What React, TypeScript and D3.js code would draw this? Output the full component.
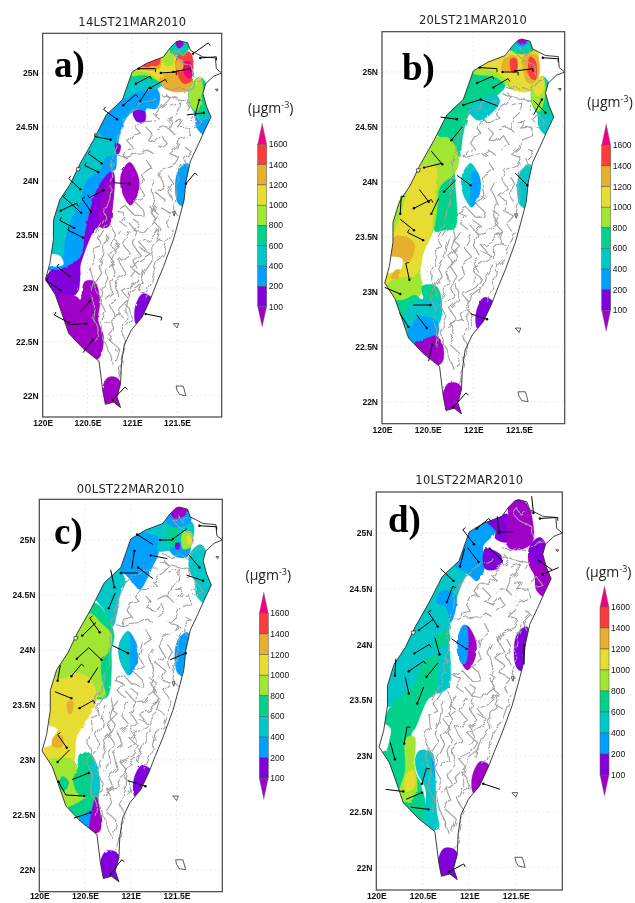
import * as d3 from "d3";
import { useEffect, useRef } from "react";

type Pt = number[];

// colour classes, lowest first (index = class used in the region lists)
const levelColors = ["#a000c8", "#8200dc", "#00a0ff", "#00c8c8", "#00d28c", "#a0e632", "#e6dc32", "#e6af2d", "#fa3c3c", "#f00082"];
const levelTicks = [1600, 1400, 1200, 1000, 800, 600, 400, 200, 100];
const lonTicks = [120, 120.5, 121, 121.5];
const latTicks = [22, 22.5, 23, 23.5, 24, 24.5, 25];

const coast: Pt[] = [
	[121.53, 25.3], [121.62, 25.28], [121.65, 25.21], [121.72, 25.18], [121.79, 25.15], [121.93, 25.14], [121.94, 25.04], [122.0, 25.0],
	[121.91, 24.97], [121.82, 24.9], [121.79, 24.81], [121.83, 24.69], [121.88, 24.59], [121.8, 24.45], [121.73, 24.32], [121.65, 24.18],
	[121.6, 23.99], [121.58, 23.82], [121.52, 23.63], [121.46, 23.45], [121.35, 23.2], [121.27, 23.04], [121.2, 22.89], [121.11, 22.73],
	[120.99, 22.61], [120.91, 22.47], [120.88, 22.3], [120.87, 22.11], [120.83, 21.99], [120.87, 21.89], [120.79, 21.94], [120.7, 21.92],
	[120.67, 22.05], [120.63, 22.32], [120.45, 22.44], [120.29, 22.58], [120.2, 22.8], [120.14, 22.94], [120.03, 23.08], [120.08, 23.23],
	[120.12, 23.45], [120.12, 23.63], [120.19, 23.82], [120.31, 23.97], [120.42, 24.16], [120.57, 24.38], [120.71, 24.61], [120.89, 24.75],
	[121.0, 25.01], [121.16, 25.09], [121.35, 25.15], [121.42, 25.23], [121.49, 25.29]
];
const islands: Pt[][] = [
	[[121.49, 22.09], [121.57, 22.09], [121.6, 22.0], [121.53, 22.01], [121.5, 22.05]],
	[[121.46, 22.67], [121.52, 22.67], [121.5, 22.63]],
	[[121.93, 24.85], [121.96, 24.85], [121.95, 24.83]],
	[[120.38, 24.12], [120.42, 24.12], [120.41, 24.09], [120.38, 24.09]],
	[[121.45, 23.71], [121.48, 23.71], [121.47, 23.67]]
];

// gray height contours, the same in all panels
const terrain: Pt[][] = [
	[[121.27, 24.76], [121.2, 24.73], [121.12, 24.72], [121.01, 24.66], [120.94, 24.61], [120.9, 24.53], [120.84, 24.42], [120.83, 24.31], [120.79, 24.24], [120.77, 24.14], [120.78, 24.04], [120.76, 23.9], [120.75, 23.83], [120.71, 23.74], [120.7, 23.65], [120.64, 23.57], [120.6, 23.5]],
	[[121.37, 24.81], [121.42, 24.76], [121.35, 24.7], [121.29, 24.67], [121.24, 24.62], [121.29, 24.58], [121.2, 24.55], [121.11, 24.55], [121.05, 24.48], [121.09, 24.44], [121.0, 24.42], [120.96, 24.36], [121.01, 24.3], [120.92, 24.28], [120.9, 24.22], [120.83, 24.24]],
	[[120.9, 24.22], [120.99, 24.24], [121.11, 24.25], [121.18, 24.28], [121.24, 24.25]],
	[[121.42, 24.7], [121.53, 24.73], [121.52, 24.64], [121.44, 24.58], [121.4, 24.49], [121.46, 24.44]],
	[[121.33, 24.79], [121.45, 24.77], [121.55, 24.75], [121.65, 24.73], [121.61, 24.66]],
	[[121.48, 24.55], [121.57, 24.55], [121.52, 24.49], [121.63, 24.5], [121.65, 24.42], [121.53, 24.38], [121.5, 24.31], [121.42, 24.25], [121.52, 24.22], [121.48, 24.16], [121.35, 24.11], [121.31, 24.03], [121.37, 23.94], [121.27, 23.88], [121.37, 23.82], [121.33, 23.74], [121.44, 23.69], [121.37, 23.62], [121.42, 23.55]],
	[[121.16, 24.19], [121.22, 24.11], [121.12, 24.05], [121.09, 23.94], [121.14, 23.86], [121.03, 23.8], [121.11, 23.74], [121.14, 23.66], [121.01, 23.69], [120.92, 23.77], [120.83, 23.72], [120.92, 23.69], [120.86, 23.62], [120.94, 23.57]],
	[[121.68, 24.5], [121.79, 24.53], [121.72, 24.61], [121.65, 24.55]],
	[[121.57, 24.17], [121.52, 24.08], [121.5, 23.96], [121.5, 23.86], [121.46, 23.74], [121.5, 23.68]],
	[[121.35, 24.87], [121.44, 24.84], [121.53, 24.87], [121.62, 24.83], [121.72, 24.92], [121.8, 24.93]],
	[[120.86, 23.54], [120.79, 23.46], [120.85, 23.42], [120.73, 23.32], [120.79, 23.25], [120.7, 23.18], [120.73, 23.09], [120.66, 22.98], [120.64, 22.87], [120.7, 22.78], [120.64, 22.66], [120.68, 22.52], [120.73, 22.44], [120.79, 22.29]],
	[[120.72, 23.59], [120.62, 23.46], [120.66, 23.4], [120.57, 23.37], [120.58, 23.25], [120.53, 23.18], [120.57, 23.06], [120.53, 22.95], [120.58, 22.85], [120.56, 22.72], [120.62, 22.6], [120.6, 22.5]],
	[[121.09, 23.37], [121.2, 23.32], [121.07, 23.25], [120.98, 23.2], [121.09, 23.12], [121.03, 23.04], [120.88, 22.98], [120.96, 22.9], [120.85, 22.81], [120.88, 22.75], [120.75, 22.72], [120.79, 22.61], [120.73, 22.53], [120.85, 22.44], [120.81, 22.32]],
	[[121.24, 23.51], [121.31, 23.54], [121.2, 23.46], [121.09, 23.42], [121.16, 23.35]],
	[[121.46, 23.54], [121.4, 23.43], [121.35, 23.31], [121.27, 23.25], [121.24, 23.15], [121.22, 23.06], [121.18, 22.97], [121.14, 22.92]],
	[[121.12, 23.06], [120.98, 22.97], [120.94, 22.84], [120.94, 22.72], [120.88, 22.6], [120.94, 22.5], [120.9, 22.39], [120.88, 22.28], [120.85, 22.16]],
	[[121.31, 23.46], [121.22, 23.39], [121.22, 23.25], [121.14, 23.15], [121.11, 23.08], [121.07, 22.98]],
	[[120.73, 23.49], [120.7, 23.42], [120.68, 23.31], [120.62, 23.21], [120.66, 23.14], [120.58, 23.04], [120.62, 22.94]],
	[[120.98, 23.52], [120.9, 23.4], [120.98, 23.32], [120.86, 23.25], [120.92, 23.14], [120.81, 23.06], [120.85, 22.92], [120.75, 22.84], [120.81, 22.75], [120.7, 22.67]],
	[[121.0, 23.65], [121.08, 23.6], [121.02, 23.54], [121.14, 23.52], [121.2, 23.58], [121.27, 23.62], [121.22, 23.7], [121.26, 23.8], [121.2, 23.92], [121.25, 24.0]],
	[[121.62, 25.2], [121.56, 25.16], [121.52, 25.22], [121.47, 25.17], [121.55, 25.1], [121.66, 25.07], [121.68, 24.97]],
	[[121.15, 24.5], [121.22, 24.44], [121.17, 24.38], [121.26, 24.36], [121.33, 24.42], [121.38, 24.35], [121.3, 24.3]],
	[[121.42, 24.48], [121.35, 24.5], [121.28, 24.47]],
	[[121.6, 24.3], [121.66, 24.27], [121.58, 24.2], [121.62, 24.12]],
	[[121.4, 24.05], [121.45, 23.98], [121.4, 23.9], [121.44, 23.82]],
	[[121.2, 23.75], [121.28, 23.7], [121.24, 23.62], [121.32, 23.55], [121.28, 23.46], [121.36, 23.42]],
	[[120.95, 23.62], [121.05, 23.52], [121.0, 23.42], [121.08, 23.32], [121.0, 23.27], [121.05, 23.18], [120.98, 23.1]],
	[[120.78, 23.58], [120.8, 23.5], [120.76, 23.4], [120.82, 23.33], [120.76, 23.22], [120.82, 23.14], [120.76, 23.05], [120.78, 22.96], [120.7, 22.9]],
	[[120.92, 22.85], [120.98, 22.8], [121.0, 22.72], [120.94, 22.65]]
];

// blobs that come back in every panel with another colour
const moonBlob: Pt[] = [[120.97, 24.17], [121.05, 24.08], [121.08, 23.97], [121.05, 23.85], [120.98, 23.77], [120.92, 23.83], [120.87, 23.95], [120.88, 24.07]];
const moonWest: Pt[] = [[120.97, 24.17], [120.97, 23.77], [120.92, 23.83], [120.87, 23.95], [120.88, 24.07]];
const hualienBlob: Pt[] = [[121.62, 24.16], [121.66, 23.98], [121.62, 23.76], [121.52, 23.78], [121.48, 23.95], [121.52, 24.1]];
const taitungBlob: Pt[] = [[121.12, 22.95], [121.24, 22.89], [121.22, 22.75], [121.05, 22.66], [121.03, 22.81]];
const hengchunBlob: Pt[] = [[120.73, 22.17], [120.84, 22.16], [120.92, 22.0], [120.92, 21.82], [120.66, 21.82], [120.66, 22.05]];
const yilanBlob: Pt[] = [[121.76, 24.96], [121.83, 24.89], [121.86, 24.7], [121.92, 24.58], [121.82, 24.42], [121.72, 24.49], [121.7, 24.62], [121.64, 24.72], [121.65, 24.88]];
const yilanUpper: Pt[] = [[121.76, 24.96], [121.83, 24.89], [121.86, 24.63], [121.72, 24.62], [121.64, 24.72], [121.65, 24.88]];
const yilanTop: Pt[] = [[121.76, 24.96], [121.79, 24.85], [121.76, 24.7], [121.72, 24.64], [121.67, 24.68], [121.64, 24.72], [121.65, 24.88]];

// [class, outline]; a class of -1 is a white hole
const regionsA: [number, Pt[]][] = [
	[2, [[121.31, 24.79], [121.27, 24.67], [121.16, 24.67], [121.14, 24.62], [121.01, 24.64], [120.9, 24.53], [120.85, 24.38], [120.83, 24.25], [120.81, 24.1], [120.75, 24.08], [120.6, 23.91], [120.47, 23.51], [120.42, 23.29], [120.17, 23.17], [120.0, 23.2], [119.9, 24.5], [120.7, 25.0], [121.0, 25.1], [121.2, 24.95]]],
	[3, [[120.66, 24.42], [120.81, 24.35], [120.83, 24.25], [120.71, 24.22], [120.64, 24.1], [120.49, 24.0], [120.42, 23.8], [120.32, 23.64], [120.25, 23.45], [120.21, 23.28], [120.0, 23.3], [119.9, 24.2], [120.4, 24.6]]],
	[1, [[120.81, 24.35], [120.87, 24.33], [120.85, 24.25], [120.83, 24.25]]],
	[1, [[120.79, 24.08], [120.78, 23.76], [120.73, 23.57], [120.64, 23.57], [120.58, 23.54], [120.45, 23.29], [120.42, 23.2], [120.42, 23.11], [120.38, 22.95], [120.19, 22.9], [120.0, 23.0], [120.1, 23.17], [120.17, 23.17], [120.42, 23.29], [120.47, 23.51], [120.6, 23.91], [120.75, 24.08]]],
	[0, [[120.79, 24.05], [120.78, 23.76], [120.73, 23.57], [120.64, 23.57], [120.7, 23.95]]],
	[-1, [[120.0, 23.3], [120.19, 23.3], [120.23, 23.22], [120.12, 23.2], [120.0, 23.2]]],
	[0, [[120.47, 23.06], [120.58, 23.06], [120.64, 22.89], [120.62, 22.7], [120.68, 22.55], [120.64, 22.36], [120.58, 22.33], [120.3, 22.4], [120.0, 22.7], [120.19, 22.93], [120.38, 22.92], [120.42, 22.89]]],
	[3, [[120.86, 24.76], [121.08, 24.83], [121.31, 24.87], [121.4, 25.0], [121.2, 25.2], [120.8, 25.1]]],
	[4, [[120.95, 24.93], [121.1, 24.94], [121.3, 24.92], [121.4, 25.0], [121.2, 25.2], [120.9, 25.1]]],
	[5, [[120.97, 24.98], [121.15, 24.98], [121.33, 24.93], [121.37, 25.05], [121.25, 25.2], [121.0, 25.1]]],
	[6, [[121.02, 25.03], [121.2, 25.0], [121.3, 24.92], [121.4, 24.85], [121.55, 24.88], [121.55, 25.15], [121.62, 25.25], [121.45, 25.28], [121.33, 25.18], [121.05, 25.13]]],
	[7, [[121.05, 25.05], [121.3, 25.04], [121.32, 25.14], [121.1, 25.14]]],
	[8, [[121.09, 25.07], [121.3, 25.08], [121.3, 25.16], [121.12, 25.16]]],
	[5, [[121.35, 25.17], [121.45, 25.19], [121.45, 25.08], [121.37, 25.07]]],
	[7, [[121.3, 24.94], [121.4, 24.84], [121.62, 24.84], [121.68, 24.95], [121.6, 25.0], [121.5, 24.97], [121.45, 25.0], [121.35, 24.98]]],
	[8, [[121.5, 25.15], [121.58, 25.2], [121.66, 25.18], [121.68, 25.0], [121.67, 24.93], [121.58, 24.9], [121.5, 25.0]]],
	[9, [[121.57, 25.1], [121.65, 25.1], [121.68, 25.02], [121.67, 24.95], [121.6, 24.97]]],
	[7, [[121.5, 25.12], [121.56, 25.12], [121.56, 25.03], [121.5, 25.03]]],
	[4, [[121.42, 25.2], [121.47, 25.3], [121.6, 25.32], [121.63, 25.22], [121.55, 25.17], [121.48, 25.17]]],
	[3, [[121.46, 25.24], [121.5, 25.3], [121.58, 25.3], [121.6, 25.22], [121.53, 25.2]]],
	[0, [[121.49, 25.27], [121.52, 25.32], [121.56, 25.3], [121.57, 25.26], [121.52, 25.23]]],
	[1, [[121.01, 24.64], [121.14, 24.64], [121.14, 24.55], [121.05, 24.55]]],
	[2, yilanBlob],
	[3, [[121.72, 24.62], [121.84, 24.63], [121.88, 24.59], [121.74, 24.56]]],
	[4, yilanUpper],
	[5, yilanTop],
	[6, [[121.76, 24.96], [121.74, 24.9], [121.7, 24.88], [121.73, 24.94]]],
	[0, moonBlob],
	[2, hualienBlob],
	[1, taitungBlob],
	[0, hengchunBlob]
];

const regionsB: [number, Pt[]][] = [
	[4, [[120.84, 24.22], [120.89, 24.44], [120.96, 24.62], [121.12, 24.72], [121.28, 24.8], [121.35, 24.88], [121.2, 25.2], [120.8, 25.1], [120.5, 24.6], [120.6, 24.43], [120.72, 24.36]]],
	[3, [[120.96, 24.62], [121.05, 24.56], [121.15, 24.59], [121.29, 24.73], [121.25, 24.79], [121.15, 24.78], [120.93, 24.65]]],
	[5, [[120.98, 25.0], [121.25, 24.95], [121.36, 24.88], [121.47, 24.83], [121.4, 25.1], [121.0, 25.15]]],
	[6, [[121.03, 25.05], [121.25, 25.0], [121.36, 24.93], [121.47, 24.83], [121.62, 24.83], [121.7, 25.05], [121.7, 25.2], [121.5, 25.25], [121.36, 25.16], [121.1, 25.16]]],
	[7, [[121.31, 25.02], [121.47, 25.03], [121.47, 25.14], [121.36, 25.14]]],
	[7, [[121.55, 25.15], [121.7, 25.15], [121.7, 24.92], [121.6, 24.9], [121.55, 25.0]]],
	[8, [[121.41, 25.12], [121.47, 25.12], [121.47, 25.0], [121.42, 25.0]]],
	[8, [[121.62, 25.14], [121.68, 25.1], [121.68, 24.93], [121.62, 24.95], [121.6, 25.05]]],
	[4, [[121.38, 25.22], [121.45, 25.32], [121.6, 25.32], [121.68, 25.22], [121.6, 25.17], [121.47, 25.17]]],
	[3, [[121.44, 25.24], [121.5, 25.32], [121.58, 25.32], [121.62, 25.24], [121.55, 25.2], [121.48, 25.2]]],
	[2, [[121.47, 25.27], [121.52, 25.32], [121.57, 25.3], [121.59, 25.26], [121.52, 25.23]]],
	[0, [[121.48, 25.29], [121.52, 25.33], [121.57, 25.31], [121.58, 25.27], [121.52, 25.25]]],
	[4, [[120.84, 24.23], [120.8, 24.1], [120.8, 23.58], [120.68, 23.56], [120.58, 23.55], [120.6, 24.0]]],
	[5, [[120.6, 24.41], [120.73, 24.4], [120.84, 24.23], [120.8, 24.08], [120.64, 23.96], [120.6, 23.72], [120.56, 23.55], [120.45, 23.35], [120.42, 23.2], [120.42, 23.05], [120.3, 23.05], [120.15, 23.2], [120.08, 23.5], [120.0, 24.0], [120.3, 24.5]]],
	[6, [[120.38, 24.12], [120.58, 24.14], [120.6, 23.96], [120.56, 23.71], [120.54, 23.53], [120.45, 23.35], [120.42, 23.22], [120.31, 23.1], [120.15, 23.0], [120.0, 23.05], [120.08, 23.4], [120.14, 23.56], [120.2, 23.68], [120.27, 23.9]]],
	[7, [[120.14, 23.5], [120.27, 23.5], [120.36, 23.42], [120.3, 23.28], [120.2, 23.28], [120.1, 23.33]]],
	[-1, [[120.0, 23.3], [120.22, 23.3], [120.2, 23.2], [120.13, 23.18], [120.0, 23.18]]],
	[7, [[120.15, 23.2], [120.2, 23.2], [120.15, 23.12], [120.1, 23.12]]],
	[5, [[120.42, 23.12], [120.42, 22.97], [120.3, 22.93], [120.2, 22.85], [120.0, 23.0], [120.1, 23.1]]],
	[4, [[120.44, 22.93], [120.44, 23.05], [120.58, 23.06], [120.64, 22.98], [120.63, 22.8], [120.3, 22.75], [120.1, 22.7], [120.1, 22.9], [120.25, 22.93], [120.36, 22.97]]],
	[3, [[120.44, 22.93], [120.63, 22.93], [120.63, 22.72], [120.4, 22.6], [120.25, 22.65], [120.25, 22.8], [120.33, 22.9]]],
	[2, [[120.3, 22.66], [120.4, 22.77], [120.6, 22.73], [120.61, 22.6], [120.5, 22.55], [120.35, 22.48], [120.25, 22.55]]],
	[0, [[120.33, 22.52], [120.5, 22.58], [120.6, 22.6], [120.67, 22.5], [120.66, 22.36], [120.58, 22.33], [120.4, 22.44], [120.3, 22.52]]],
	[3, yilanBlob],
	[4, yilanUpper],
	[5, yilanTop],
	[6, [[121.76, 24.96], [121.76, 24.82], [121.7, 24.78], [121.65, 24.88]]],
	[3, moonBlob],
	[2, [[121.0, 24.1], [121.05, 24.08], [121.08, 23.97], [121.05, 23.85], [120.98, 23.77], [120.97, 23.95]]],
	[3, hualienBlob],
	[1, taitungBlob],
	[0, hengchunBlob]
];

const regionsC: [number, Pt[]][] = [
	[2, [[120.84, 24.75], [120.95, 24.95], [121.05, 25.1], [121.3, 25.1], [121.3, 24.87], [121.24, 24.76], [121.18, 24.65], [121.1, 24.55], [121.03, 24.6], [120.95, 24.68]]],
	[3, [[121.1, 25.08], [121.3, 25.03], [121.3, 24.9], [121.42, 24.9], [121.5, 24.87], [121.65, 24.95], [121.68, 25.15], [121.52, 25.2], [121.38, 25.2]]],
	[2, [[121.43, 24.9], [121.52, 24.84], [121.62, 24.85], [121.65, 24.95], [121.5, 24.98]]],
	[4, [[121.42, 25.16], [121.5, 25.12], [121.5, 24.95], [121.42, 24.95]]],
	[5, [[121.57, 25.07], [121.66, 25.07], [121.66, 24.94], [121.57, 24.92]]],
	[6, [[121.62, 25.05], [121.66, 25.03], [121.66, 24.97], [121.62, 24.97]]],
	[1, [[121.49, 24.97], [121.53, 24.97], [121.53, 24.92], [121.49, 24.92]]],
	[2, [[121.38, 25.18], [121.45, 25.3], [121.6, 25.3], [121.66, 25.18], [121.55, 25.12], [121.45, 25.12]]],
	[0, [[121.43, 25.26], [121.5, 25.33], [121.58, 25.32], [121.62, 25.25], [121.53, 25.2], [121.47, 25.2]]],
	[3, yilanBlob],
	[3, [[120.6, 24.5], [120.78, 24.75], [120.88, 24.73], [120.94, 24.62], [120.88, 24.5], [120.86, 24.38], [120.8, 24.21], [120.7, 24.37]]],
	[4, [[120.5, 24.41], [120.63, 24.42], [120.77, 24.26], [120.82, 24.12], [120.79, 24.0], [120.79, 23.82], [120.74, 23.57], [120.58, 23.57], [120.6, 23.9], [120.4, 24.2]]],
	[5, [[120.55, 24.33], [120.68, 24.24], [120.79, 24.14], [120.77, 24.0], [120.68, 23.9], [120.68, 23.75], [120.72, 23.57], [120.6, 23.57], [120.55, 23.47], [120.47, 23.35], [120.0, 23.5], [120.15, 23.8], [120.3, 24.1]]],
	[6, [[120.39, 23.79], [120.54, 23.74], [120.63, 23.57], [120.52, 23.36], [120.41, 23.21], [120.37, 22.97], [120.2, 22.9], [120.05, 23.0], [120.05, 23.1], [120.12, 23.22], [120.05, 23.5], [120.07, 23.64], [120.12, 23.73], [120.28, 23.74]]],
	[7, [[120.31, 23.53], [120.37, 23.53], [120.35, 23.42], [120.32, 23.42]]],
	[-1, [[120.0, 23.3], [120.2, 23.28], [120.16, 23.22], [120.12, 23.13], [120.0, 23.13]]],
	[7, [[120.15, 23.2], [120.25, 23.22], [120.25, 23.12], [120.15, 23.12]]],
	[5, [[120.37, 23.0], [120.44, 22.85], [120.5, 22.7], [120.55, 22.6], [120.4, 22.55], [120.25, 22.6], [120.0, 22.9], [120.1, 23.0]]],
	[4, [[120.42, 22.92], [120.44, 23.05], [120.55, 23.06], [120.63, 22.95], [120.64, 22.68], [120.44, 22.68], [120.37, 22.82]]],
	[4, [[120.25, 22.85], [120.32, 22.8], [120.28, 22.72], [120.22, 22.75]]],
	[3, [[120.58, 23.0], [120.63, 22.95], [120.64, 22.68], [120.58, 22.7]]],
	[4, [[120.58, 22.68], [120.64, 22.68], [120.6, 22.5], [120.4, 22.47], [120.3, 22.55], [120.4, 22.6]]],
	[2, [[120.44, 22.47], [120.6, 22.55], [120.6, 22.4], [120.5, 22.35], [120.4, 22.4]]],
	[0, [[120.62, 22.66], [120.67, 22.5], [120.66, 22.35], [120.55, 22.33], [120.55, 22.42]]],
	[2, moonBlob],
	[3, moonWest],
	[2, hualienBlob],
	[1, taitungBlob],
	[1, hengchunBlob]
];

const regionsD: [number, Pt[]][] = [
	[3, [[120.8, 24.8], [121.0, 24.75], [121.15, 24.65], [121.08, 24.58], [120.98, 24.62], [120.9, 24.5], [120.83, 24.3], [120.78, 24.1], [120.8, 23.8], [120.78, 23.62], [120.65, 23.56], [120.6, 23.62], [120.45, 23.55], [120.15, 23.44], [119.95, 23.5], [120.1, 24.0], [120.5, 24.6]]],
	[2, [[120.7, 24.48], [120.85, 24.45], [120.85, 24.3], [120.8, 24.2], [120.75, 24.33], [120.64, 24.38]]],
	[2, [[120.85, 24.7], [120.97, 24.65], [121.08, 24.57], [121.17, 24.7], [121.15, 24.88], [121.28, 25.01], [121.2, 25.15], [120.95, 25.15], [120.9, 25.0]]],
	[1, [[121.15, 25.14], [121.42, 25.16], [121.42, 24.92], [121.28, 24.95], [121.28, 25.02]]],
	[1, [[121.17, 24.86], [121.35, 24.79], [121.3, 24.68], [121.17, 24.68]]],
	[0, [[121.42, 25.3], [121.5, 25.33], [121.63, 25.25], [121.68, 25.12], [121.68, 24.92], [121.55, 24.85], [121.42, 24.87], [121.42, 25.15]]],
	[0, yilanBlob],
	[1, [[121.76, 24.96], [121.81, 24.89], [121.79, 24.75], [121.7, 24.72], [121.65, 24.88]]],
	[4, [[120.77, 24.12], [120.79, 24.03], [120.68, 23.98], [120.62, 24.0], [120.68, 24.1]]],
	[4, [[120.66, 23.9], [120.5, 23.85], [120.42, 23.65], [120.15, 23.44], [120.05, 23.2], [120.05, 22.95], [120.2, 22.55], [120.35, 22.45], [120.52, 22.4], [120.5, 22.7], [120.4, 22.9], [120.38, 23.2], [120.42, 23.25], [120.55, 23.5], [120.63, 23.56], [120.65, 23.75]]],
	[-1, [[120.0, 23.3], [120.15, 23.25], [120.14, 23.15], [120.1, 23.05], [120.0, 23.05]]],
	[3, [[120.42, 22.98], [120.47, 23.05], [120.6, 23.03], [120.63, 22.85], [120.65, 22.5], [120.67, 22.35], [120.55, 22.33], [120.52, 22.45], [120.53, 22.7], [120.44, 22.85]]],
	[2, [[120.6, 23.0], [120.63, 22.85], [120.63, 22.8], [120.6, 22.9]]],
	[5, [[120.32, 23.16], [120.41, 23.17], [120.41, 22.93], [120.44, 22.72], [120.36, 22.59], [120.24, 22.62], [120.31, 22.87]]],
	[6, [[120.32, 22.83], [120.4, 22.87], [120.41, 22.72], [120.32, 22.68]]],
	[0, moonBlob],
	[2, [[120.93, 24.17], [120.97, 24.17], [120.96, 23.83], [120.92, 23.83], [120.87, 23.95], [120.88, 24.07]]],
	[1, hualienBlob],
	[0, taitungBlob],
	[1, hengchunBlob]
];

// station lon, lat, lon and lat of the barb's tip, and 1 if the tip has a feather
const barbsA: number[][] = [
	[121.68, 25.18, 121.85, 25.28, 1], [121.76, 25.14, 121.94, 25.15, 1], [121.07, 25.04, 121.26, 25.04, 1], [121.32, 25.0, 121.49, 25.01, 1],
	[121.46, 25.01, 121.65, 25.04, 1], [121.04, 24.9, 121.2, 24.97, 1], [121.2, 24.86, 121.37, 24.94, 1], [121.09, 24.74, 121.19, 24.87, 1],
	[120.9, 24.7, 121.04, 24.8, 1], [120.83, 24.57, 120.68, 24.66, 1], [120.76, 24.38, 120.58, 24.41, 1], [120.66, 24.16, 120.51, 24.25, 1],
	[120.62, 24.08, 120.47, 24.14, 1], [120.42, 23.92, 120.29, 24.02, 1], [120.68, 23.91, 120.52, 23.84, 1], [120.43, 23.7, 120.23, 23.85, 1],
	[120.54, 23.71, 120.44, 23.83, 1], [120.2, 23.72, 120.38, 23.79, 1], [120.35, 23.56, 120.19, 23.63, 1], [120.45, 23.47, 120.28, 23.54, 1],
	[120.3, 23.11, 120.16, 23.2, 1], [120.2, 22.98, 120.04, 23.07, 1], [120.53, 22.88, 120.41, 22.77, 0], [120.29, 22.68, 120.13, 22.75, 1],
	[120.49, 22.67, 120.3, 22.66, 0], [120.56, 22.52, 120.45, 22.4, 0], [120.78, 21.96, 120.92, 22.08, 1], [121.15, 22.76, 121.33, 22.73, 1],
	[120.97, 23.97, 120.79, 23.98, 1], [121.6, 23.97, 121.7, 24.07, 1], [121.75, 24.75, 121.7, 24.6, 0], [121.8, 24.63, 121.61, 24.61, 0]
];
const barbsB: number[][] = [
	[121.07, 25.04, 121.26, 25.03, 1], [121.32, 25.0, 121.49, 25.0, 1], [121.46, 25.01, 121.65, 25.03, 1], [121.04, 24.9, 121.21, 24.96, 1],
	[121.22, 24.86, 121.38, 24.94, 1], [120.89, 24.7, 121.08, 24.75, 0], [121.08, 24.75, 121.27, 24.69, 0], [120.82, 24.57, 120.64, 24.59, 0],
	[120.76, 24.38, 120.88, 24.5, 0], [120.66, 24.16, 120.54, 24.28, 0], [120.46, 24.13, 120.66, 24.17, 0], [120.68, 23.91, 120.81, 24.02, 0],
	[120.97, 23.97, 120.82, 24.06, 0], [121.59, 23.97, 121.46, 24.08, 0], [120.51, 23.82, 120.41, 23.93, 0], [120.35, 23.76, 120.54, 23.84, 1],
	[120.54, 23.71, 120.62, 23.85, 0], [120.2, 23.71, 120.21, 23.87, 1], [120.35, 23.56, 120.2, 23.66, 0], [120.45, 23.47, 120.28, 23.54, 1],
	[120.3, 23.11, 120.26, 23.26, 1], [120.2, 22.98, 120.03, 23.04, 0], [120.53, 22.88, 120.34, 22.88, 0], [120.49, 22.67, 120.38, 22.79, 0],
	[120.29, 22.68, 120.19, 22.81, 0], [120.55, 22.52, 120.51, 22.37, 0], [120.78, 21.95, 120.92, 22.08, 1], [121.15, 22.75, 120.97, 22.8, 0],
	[121.79, 24.63, 121.66, 24.74, 0], [121.75, 24.75, 121.66, 24.61, 0], [121.76, 25.13, 121.93, 25.12, 1]
];
const barbsC: number[][] = [
	[121.07, 25.05, 121.24, 24.96, 0], [121.32, 25.0, 121.46, 25.0, 0], [121.46, 25.01, 121.61, 25.1, 0], [121.04, 24.9, 121.01, 24.74, 0],
	[121.22, 24.86, 121.4, 24.83, 0], [121.08, 24.75, 121.24, 24.65, 0], [120.89, 24.7, 121.08, 24.7, 0], [120.82, 24.57, 120.78, 24.73, 0],
	[120.76, 24.38, 120.83, 24.52, 0], [120.66, 24.16, 120.55, 24.29, 1], [120.47, 24.13, 120.62, 24.25, 0], [120.68, 23.91, 120.54, 24.02, 0],
	[120.41, 23.92, 120.54, 24.02, 0], [120.35, 23.76, 120.46, 23.87, 1], [120.54, 23.71, 120.64, 23.84, 0], [120.2, 23.72, 120.23, 23.86, 0],
	[120.35, 23.56, 120.17, 23.62, 0], [120.44, 23.47, 120.59, 23.54, 1], [120.3, 23.11, 120.2, 23.23, 1], [120.2, 22.98, 120.33, 23.09, 0],
	[120.54, 22.88, 120.36, 22.82, 0], [120.49, 22.67, 120.29, 22.68, 0], [120.21, 22.8, 120.29, 22.68, 0], [120.56, 22.52, 120.38, 22.47, 0],
	[120.78, 21.96, 120.9, 22.09, 1], [121.16, 22.76, 120.97, 22.81, 0], [120.97, 23.97, 120.8, 24.04, 0], [121.6, 23.97, 121.43, 23.91, 0],
	[121.75, 24.75, 121.63, 24.87, 0], [121.79, 24.63, 121.61, 24.68, 0], [121.75, 25.13, 121.94, 25.12, 1]
];
const barbsD: number[][] = [
	[121.08, 25.04, 121.21, 25.13, 1], [121.32, 25.0, 121.3, 25.15, 0], [121.32, 25.01, 121.48, 25.01, 0], [121.05, 24.9, 120.93, 25.03, 1],
	[121.22, 24.86, 121.36, 24.75, 0], [121.1, 24.74, 120.98, 24.87, 0], [120.9, 24.7, 120.95, 24.86, 0], [120.83, 24.57, 120.69, 24.68, 0],
	[120.76, 24.38, 120.82, 24.52, 1], [120.66, 24.16, 120.56, 24.29, 1], [120.46, 24.13, 120.62, 24.23, 0], [120.68, 23.91, 120.63, 24.06, 0],
	[120.41, 23.92, 120.57, 24.0, 1], [120.35, 23.76, 120.51, 23.85, 1], [120.54, 23.71, 120.66, 23.83, 0], [120.2, 23.72, 120.21, 23.87, 0],
	[120.35, 23.56, 120.31, 23.71, 0], [120.44, 23.47, 120.51, 23.62, 0], [120.3, 23.11, 120.33, 23.26, 1], [120.2, 22.97, 120.15, 23.12, 0],
	[120.49, 22.75, 120.54, 22.89, 1], [120.49, 22.67, 120.32, 22.61, 0], [120.29, 22.68, 120.1, 22.7, 0], [120.56, 22.52, 120.37, 22.54, 0],
	[120.78, 21.96, 120.94, 22.03, 1], [121.15, 22.75, 121.33, 22.7, 0], [120.97, 23.96, 120.81, 24.05, 0], [121.59, 23.99, 121.59, 23.82, 0],
	[121.75, 24.75, 121.89, 24.67, 0], [121.79, 24.63, 121.96, 24.69, 0], [121.69, 25.18, 121.67, 25.33, 0], [121.76, 25.13, 121.95, 25.14, 1]
];

const panels = [
	{ id: "a", letter: "a)", title: "14LST21MAR2010", regions: regionsA, barbs: barbsA, x: [42.7, 221.7], frame: [33.3, 417], y: [395.7, 73], titleAt: [132.3, 26], letterAt: [54, 77], bar: [257.7, 123.3, 144.3, 306.7, 326.7], unitAt: [270.7, 113], pad: 3 },
	{ id: "b", letter: "b)", title: "20LST21MAR2010", regions: regionsB, barbs: barbsB, x: [382, 564.7], frame: [31.7, 423.7], y: [401.7, 72], titleAt: [473, 24], letterAt: [402, 80], bar: [601.7, 124, 145.3, 310.3, 331.3], unitAt: [610, 107], pad: 3 },
	{ id: "c", letter: "c)", title: "00LST22MAR2010", regions: regionsC, barbs: barbsC, x: [39.3, 222.3], frame: [499.3, 891.7], y: [869.7, 540], titleAt: [130.7, 492.7], letterAt: [54, 544], bar: [259.3, 592.3, 613.3, 778.3, 799.3], unitAt: [268.3, 580], pad: 1.5 },
	{ id: "d", letter: "d)", title: "10LST22MAR2010", regions: regionsD, barbs: barbsD, x: [376.3, 562.3], frame: [492, 890], y: [867.3, 533], titleAt: [469.3, 484.3], letterAt: [388, 532], bar: [600, 586, 607, 775, 796], unitAt: [608.7, 577], pad: 3 }
];

const latLabel = (d: number) => `${d}N`;
const lonLabel = (d: number) => `${d}E`;

const drawPanel = (svg: any, p: any) => {
	const x = d3.scaleLinear().domain([120, 122]).range(p.x);
	const y = d3.scaleLinear().domain([22, 25]).range(p.y);
	const line = d3.line<Pt>().x(d => x(d[0])).y(d => y(d[1]));
	const rounded = d3.line<Pt>().x(d => x(d[0])).y(d => y(d[1])).curve(d3.curveCatmullRomClosed.alpha(0.5));
	const [left, right] = p.x;
	const [top, bottom] = p.frame;

	const g = svg.append("g");

	g.append("clipPath").attr("id", `land-${p.id}`).append("path").attr("d", line(coast) + "Z");

	// dotted graticule
	g.selectAll("line.lat").data(latTicks).enter().append("line")
		.attr("x1", left).attr("x2", right).attr("y1", d => y(d)).attr("y2", d => y(d))
		.attr("stroke", "#cfcfcf").attr("stroke-width", 0.6).attr("stroke-dasharray", "1.5 3");
	g.selectAll("line.lon").data(lonTicks.slice(1)).enter().append("line")
		.attr("x1", d => x(d)).attr("x2", d => x(d)).attr("y1", top).attr("y2", bottom)
		.attr("stroke", "#cfcfcf").attr("stroke-width", 0.6).attr("stroke-dasharray", "1.5 3");

	g.append("g").attr("clip-path", `url(#land-${p.id})`)
		.append("g").attr("filter", "url(#rough)")
		.selectAll("path").data(p.regions).enter().append("path")
		.attr("d", d => rounded(d[1]))
		.attr("fill", d => (d[0] < 0 ? "#fff" : levelColors[d[0]]))
		.attr("stroke", d => (d[0] < 0 ? "#fff" : levelColors[d[0]]))
		.attr("stroke-width", 0.3);

	g.append("g").attr("filter", "url(#wiggle)")
		.selectAll("path").data(terrain).enter().append("path")
		.attr("d", d => line(d))
		.attr("fill", "none").attr("stroke", "#a0a0a0").attr("stroke-width", 1.1);

	g.append("path").attr("d", line(coast) + "Z")
		.attr("fill", "none").attr("stroke", "#2a2a2a").attr("stroke-width", 0.9);
	g.selectAll("path.island").data(islands).enter().append("path")
		.attr("d", d => line(d) + "Z")
		.attr("fill", "#fff").attr("stroke", "#333").attr("stroke-width", 0.8);

	// wind barbs
	const barbs = g.append("g").selectAll("g").data(p.barbs).enter().append("g");
	barbs.append("line")
		.attr("x1", d => x(d[0])).attr("y1", d => y(d[1]))
		.attr("x2", d => x(d[2])).attr("y2", d => y(d[3]))
		.attr("stroke", "#000").attr("stroke-width", 1);
	barbs.append("circle")
		.attr("cx", d => x(d[0])).attr("cy", d => y(d[1])).attr("r", 1.2)
		.attr("fill", "#000");
	barbs.filter(d => d[4] === 1).append("line")
		.attr("x1", d => x(d[2])).attr("y1", d => y(d[3]))
		.attr("x2", d => {
			const dx = x(d[2]) - x(d[0]);
			const dy = y(d[3]) - y(d[1]);
			return x(d[2]) - (dy / Math.hypot(dx, dy)) * 3.5;
		})
		.attr("y2", d => {
			const dx = x(d[2]) - x(d[0]);
			const dy = y(d[3]) - y(d[1]);
			return y(d[3]) + (dx / Math.hypot(dx, dy)) * 3.5;
		})
		.attr("stroke", "#000").attr("stroke-width", 0.9);

	// frame and axes
	g.append("rect").attr("x", left).attr("y", top)
		.attr("width", right - left).attr("height", bottom - top)
		.attr("fill", "none").attr("stroke", "#444").attr("stroke-width", 1.2);

	const axisLeft = g.append("g").attr("transform", `translate(${left},0)`)
		.call(d3.axisLeft(y).tickValues(latTicks).tickFormat(latLabel).tickSize(0).tickPadding(4));
	const axisBottom = g.append("g").attr("transform", `translate(0,${bottom})`)
		.call(d3.axisBottom(x).tickValues(lonTicks).tickFormat(lonLabel).tickSize(0).tickPadding(p.pad));
	[axisLeft, axisBottom].forEach(a => {
		a.select(".domain").remove();
		a.selectAll("text")
			.attr("fill", "#111")
			.style("font-family", "'Liberation Sans', sans-serif")
			.style("font-size", "8.5px")
			.style("font-weight", "bold");
	});

	g.append("text").attr("x", p.titleAt[0]).attr("y", p.titleAt[1])
		.attr("text-anchor", "middle")
		.style("font-family", "'DejaVu Sans', sans-serif").style("font-size", "11.5px").style("letter-spacing", "0.2px").attr("fill", "#222")
		.text(p.title);

	g.append("text").attr("x", p.letterAt[0]).attr("y", p.letterAt[1])
		.style("font-family", "'Liberation Serif', serif").style("font-size", "37px").style("font-weight", "bold").attr("fill", "#000")
		.text(p.letter);

	const unit = g.append("text").attr("x", p.unitAt[0]).attr("y", p.unitAt[1])
		.attr("text-anchor", "middle")
		.style("font-family", "'Open Sans', sans-serif").style("font-size", "14px").attr("fill", "#222");
	unit.append("tspan").text("(µgm");
	unit.append("tspan").attr("dy", -5).style("font-size", "9px").text("-3");
	unit.append("tspan").attr("dy", 5).text(")");

	// colour bar: one band per tick interval, with a pointed end on both sides
	const [barX, tipTop, y1600, y100, tipBottom] = p.bar;
	const barW = 9;
	const barY = d3.scalePoint<number>().domain(levelTicks).range([y1600, y100]);
	const bar = g.append("g");
	bar.append("path")
		.attr("d", `M${barX},${y1600}L${barX + barW / 2},${tipTop}L${barX + barW},${y1600}Z`)
		.attr("fill", levelColors[9]).attr("stroke", "#777").attr("stroke-width", 0.4);
	bar.append("path")
		.attr("d", `M${barX},${y100}L${barX + barW / 2},${tipBottom}L${barX + barW},${y100}Z`)
		.attr("fill", levelColors[0]).attr("stroke", "#777").attr("stroke-width", 0.4);
	bar.selectAll("rect").data(levelTicks.slice(0, -1)).enter().append("rect")
		.attr("x", barX).attr("width", barW)
		.attr("y", d => barY(d))
		.attr("height", barY.step())
		.attr("fill", (d, i) => levelColors[8 - i])
		.attr("stroke", "#555").attr("stroke-width", 0.5);
	bar.selectAll("text").data(levelTicks).enter().append("text")
		.attr("x", barX + barW + 2)
		.attr("y", d => barY(d))
		.attr("dy", "0.35em")
		.style("font-family", "'Liberation Sans', sans-serif").style("font-size", "8.5px").attr("fill", "#111")
		.text(d => d);
};

export default function App() {
	const ref = useRef<SVGSVGElement>(null);

	useEffect(() => {
		const svg = d3.select(ref.current);
		svg.selectAll("*").remove();

		// squiggle for the height contours, a slighter one for the shaded edges
		const defs = svg.append("defs");
		const wiggle = defs.append("filter").attr("id", "wiggle")
			.attr("filterUnits", "userSpaceOnUse").attr("x", 0).attr("y", 0).attr("width", 635).attr("height", 903);
		wiggle.append("feTurbulence").attr("type", "fractalNoise").attr("baseFrequency", 0.13).attr("numOctaves", 1).attr("seed", 4).attr("result", "n");
		wiggle.append("feDisplacementMap").attr("in", "SourceGraphic").attr("in2", "n").attr("scale", 8);
		const rough = defs.append("filter").attr("id", "rough")
			.attr("filterUnits", "userSpaceOnUse").attr("x", 0).attr("y", 0).attr("width", 635).attr("height", 903);
		rough.append("feTurbulence").attr("type", "fractalNoise").attr("baseFrequency", 0.2).attr("numOctaves", 1).attr("seed", 9).attr("result", "n");
		rough.append("feDisplacementMap").attr("in", "SourceGraphic").attr("in2", "n").attr("scale", 2.5);

		panels.forEach(p => drawPanel(svg, p));
	}, []);

	return (
		<svg
			ref={ref}
			width={635}
			height={903}
			style={{ position: "absolute", left: 0, top: 0, background: "#fff", filter: "blur(0.35px)" }}
		/>
	);
}
